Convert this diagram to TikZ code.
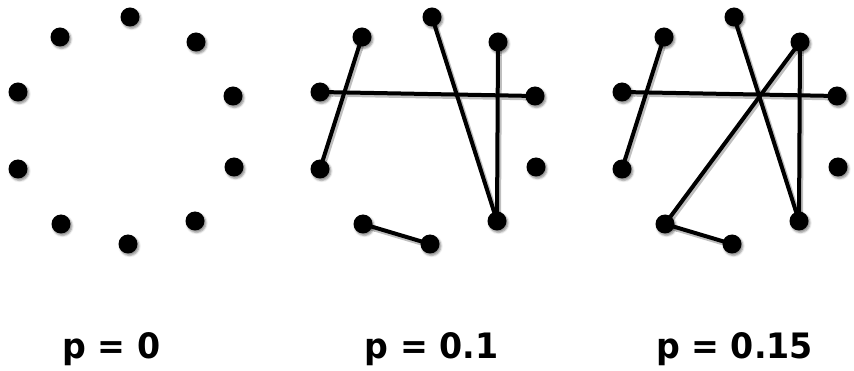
\documentclass[tikz,border=0pt]{standalone}
\usepackage{fontspec}
\setmainfont{DejaVu Sans}
\usetikzlibrary{shadows.blur,backgrounds}
\tikzset{
  vertex/.style={circle, fill=black, inner sep=0pt, minimum size=19pt,
    blur shadow={shadow xshift=1.5pt, shadow yshift=-2pt, shadow blur radius=2pt, shadow opacity=45}},
  link/.style={line width=4pt, black},
  linkshadow/.style={line width=5pt, black!25, transform canvas={shift={(1.5pt,-2pt)}}},
  plabel/.style={font=\fontsize{35}{38}\selectfont\bfseries, inner sep=0pt, anchor=base, xscale=0.95},
}
\begin{document}
\begin{tikzpicture}[x=1pt, y=-1pt]
  \useasboundingbox (0,0) rectangle (854,371);
  % Ten vertices in each of the three panels
  \foreach \pn/\dx in {a/0, b/302, c/604}{
    \foreach \i/\x/\y in {1/130/17, 2/196/42, 3/233/96, 4/234/167, 5/195/221,
                          6/128/244, 7/61/224, 8/18/169, 9/18/92, 10/60/37}
      \node[vertex] (\pn\i) at (\x+\dx,\y) {};
  }
  % Rewired links, under the vertices
  \begin{scope}[on background layer]
    \foreach \u/\v in {b10/b8, b9/b3, b1/b5, b2/b5, b7/b6,
                       c10/c8, c9/c3, c1/c5, c2/c5, c2/c7, c7/c6}
      \draw[linkshadow] (\u.center) -- (\v.center);
    \foreach \u/\v in {b10/b8, b9/b3, b1/b5, b2/b5, b7/b6,
                       c10/c8, c9/c3, c1/c5, c2/c5, c2/c7, c7/c6}
      \draw[link] (\u.center) -- (\v.center);
  \end{scope}
  % Labels
  \node[plabel] (pa) at (111.5,359) {p = 0};
  \node[plabel] (pb) at (431.5,359) {p = 0.1};
  \node[plabel] (pc) at (734.5,359) {p = 0.15};
\end{tikzpicture}
\end{document}
